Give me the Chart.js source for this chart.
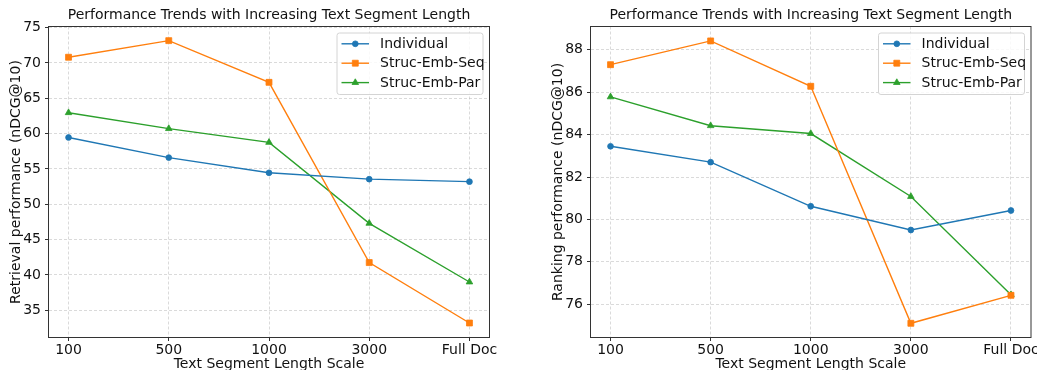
<!DOCTYPE html>
<html><head><meta charset="utf-8">
<script src="https://cdn.jsdelivr.net/npm/chart.js@4"></script>
<style>
html,body{margin:0;padding:0;background:#fff;width:1037px;height:370px;overflow:hidden}
.box{position:absolute;top:0;height:370px}
#b1{left:0;width:520px}
#b2{left:542px;width:495px}
canvas{display:block}
</style></head><body>
<div class="box" id="b1"><canvas id="c1" width="520" height="370"></canvas></div>
<div class="box" id="b2"><canvas id="c2" width="495" height="370"></canvas></div>
<script>
// ---- data ----
const categories = ['100', '500', '1000', '3000', 'Full Doc'];
const seriesNames = ['Individual', 'Struc-Emb-Seq', 'Struc-Emb-Par'];
const retrievalIndividual = [59.45, 56.6, 54.45, 53.55, 53.2];
const retrievalSeq = [70.8, 73.15, 67.25, 41.75, 33.2];
const retrievalPar = [62.95, 60.7, 58.75, 47.3, 39.0];
const rankingIndividual = [83.45, 82.7, 80.62, 79.5, 80.42];
const rankingSeq = [87.3, 88.42, 86.28, 75.1, 76.42];
const rankingPar = [85.78, 84.42, 84.05, 81.08, 76.45];
const retrievalTicks = [35, 40, 45, 50, 55, 60, 65, 70, 75];
const rankingTicks = [76, 78, 80, 82, 84, 86, 88];

const colors = ['#1f77b4', '#ff7f0e', '#2ca02c'];
const styles = [
  {pointStyle: 'circle', pointRadius: 2.9},
  {pointStyle: 'rect', pointRadius: 4.2},
  {pointStyle: 'triangle', pointRadius: 3.8}
];
const FS = 14;

Chart.defaults.font.family = "'DejaVu Sans', sans-serif";
Chart.defaults.font.size = FS;
Chart.defaults.color = '#111';

function makeDatasets(arrs) {
  return arrs.map((vals, i) => ({
    label: seriesNames[i],
    data: vals.map((v, j) => ({x: j, y: v})),
    borderColor: colors[i],
    backgroundColor: colors[i],
    borderWidth: 1.4,
    pointStyle: styles[i].pointStyle,
    pointRadius: styles[i].pointRadius,
    pointBorderWidth: 0.8,
    pointBorderColor: colors[i],
    pointBackgroundColor: colors[i],
    tension: 0
  }));
}

const frameLegend = {
  id: 'frameLegend',
  afterDraw(chart) {
    const {ctx, chartArea: a} = chart;
    ctx.save();
    ctx.strokeStyle = '#333';
    ctx.lineWidth = 1;
    ctx.setLineDash([]);
    ctx.strokeRect(a.left, a.top, a.right - a.left, a.bottom - a.top);
    // legend box
    const w = 146, h = 61.5;
    const x0 = a.right - 6.5 - w, y0 = a.top + 6.5;
    ctx.beginPath();
    if (ctx.roundRect) ctx.roundRect(x0, y0, w, h, 2.5); else ctx.rect(x0, y0, w, h);
    ctx.fillStyle = 'rgba(255,255,255,0.85)';
    ctx.fill();
    ctx.strokeStyle = '#d4d4d4';
    ctx.lineWidth = 1;
    ctx.stroke();
    chart.data.datasets.forEach((ds, i) => {
      const y = y0 + 10.8 + i * 19.4;
      ctx.strokeStyle = ds.borderColor;
      ctx.fillStyle = ds.backgroundColor;
      ctx.lineWidth = ds.borderWidth;
      ctx.beginPath();
      ctx.moveTo(x0 + 4.5, y);
      ctx.lineTo(x0 + 32, y);
      ctx.stroke();
      ctx.lineWidth = 0.8;
      Chart.helpers.drawPoint(ctx, {pointStyle: ds.pointStyle, radius: ds.pointRadius, borderWidth: 0.8, rotation: 0}, x0 + 18.3, y);
      ctx.fillStyle = '#111';
      ctx.font = FS + "px 'DejaVu Sans', sans-serif";
      ctx.textBaseline = 'middle';
      ctx.textAlign = 'left';
      ctx.fillText(ds.label, x0 + 43, y + 0.5);
    });
    ctx.restore();
  }
};

function makeChart(id, arrs, yTicks, yMin, yMax, yTitle, padRight) {
  return new Chart(document.getElementById(id), {
    type: 'line',
    data: {datasets: makeDatasets(arrs)},
    plugins: [frameLegend],
    options: {
      responsive: false,
      animation: false,
      devicePixelRatio: 1,
      layout: {padding: {left: 0, right: padRight, top: 0, bottom: 0}},
      plugins: {
        legend: {display: false},
        tooltip: {enabled: false},
        title: {
          display: true,
          text: 'Performance Trends with Increasing Text Segment Length',
          fullSize: false,
          font: {size: FS, weight: 'normal'},
          color: '#111',
          padding: {top: 7, bottom: 2.7}
        }
      },
      scales: {
        x: {
          type: 'linear',
          min: -0.2, max: 4.2,
          afterBuildTicks: s => { s.ticks = categories.map((_, i) => ({value: i})); },
          afterFit: s => { s.height = 32.5; s.paddingLeft = 0; s.paddingRight = 0; },
          ticks: {callback: v => categories[v], padding: 1, maxRotation: 0, autoSkip: false, color: '#111'},
          grid: {color: 'rgba(176,176,176,0.6)', lineWidth: 0.8, tickLength: 3.5, tickColor: '#333', tickWidth: 1, tickBorderDash: []},
          border: {display: false, dash: [3, 2]},
          title: {display: true, text: 'Text Segment Length Scale', font: {size: FS}, color: '#111', padding: {top: 0, bottom: -3}}
        },
        y: {
          type: 'linear',
          min: yMin, max: yMax,
          afterBuildTicks: s => { s.ticks = yTicks.map(v => ({value: v})); },
          afterFit: s => { s.width = 48.5; s.paddingTop = 0; s.paddingBottom = 0; },
          ticks: {padding: 4, color: '#111'},
          grid: {color: 'rgba(176,176,176,0.6)', lineWidth: 0.8, tickLength: 3.5, tickColor: '#333', tickWidth: 1, tickBorderDash: []},
          border: {display: false, dash: [3, 2]},
          title: {display: true, text: yTitle, font: {size: FS}, color: '#111', padding: {top: 7.5, bottom: 0}}
        }
      }
    }
  });
}

makeChart('c1', [retrievalIndividual, retrievalSeq, retrievalPar], retrievalTicks, 31.15, 75.15, 'Retrieval performance (nDCG@10)', 30.5);
makeChart('c2', [rankingIndividual, rankingSeq, rankingPar], rankingTicks, 74.43, 89.1, 'Ranking performance (nDCG@10)', 6);
</script>
</body></html>
